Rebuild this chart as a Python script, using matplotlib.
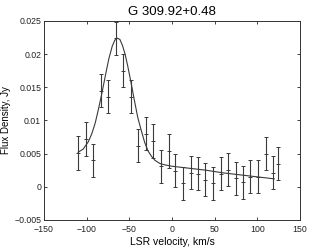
import matplotlib
matplotlib.use("Agg")
import matplotlib.pyplot as plt

# measured points (LSR velocity, km/s / flux density, Jy)
vel = [-110, -101, -92, -83, -75, -66, -57, -48, -40, -31, -22, -13, -4, 4,
       13, 22, 30, 39, 48, 57, 66, 75, 83, 92, 101, 110, 118, 124]
flux = [0.0051, 0.0072, 0.0040, 0.0145, 0.0136, 0.0224, 0.0175, 0.0136,
        0.0062, 0.0080, 0.0069, 0.0031, 0.0054, 0.0024, 0.0005, 0.0021,
        0.0020, 0.0011, 0.0005, 0.0020, 0.0026, 0.0013, 0.0007, 0.0015,
        0.0015, 0.0050, 0.0021, 0.0035]
err = [0.0025] * len(vel)

# fitted curve
fit_vel = [-110, -104, -98, -94, -90, -86, -82, -78, -74, -70, -67, -64, -61,
           -58, -55, -52, -48, -44, -40, -36, -32, -28, -24, -20, -14, -8, 0,
           20, 40, 60, 80, 100, 120]
fit_flux = [0.0052, 0.0057, 0.0068, 0.0080, 0.0096, 0.0118, 0.0142, 0.0168,
            0.0193, 0.0212, 0.0221, 0.0224, 0.0222, 0.0213, 0.0200, 0.0183,
            0.0157, 0.0130, 0.0104, 0.0085, 0.0067, 0.0054, 0.0046, 0.0040,
            0.0035, 0.0033, 0.0031, 0.0028, 0.0025, 0.0021, 0.0018, 0.0015,
            0.0012]

xticks = [-150, -100, -50, 0, 50, 100, 150]
yticks = [-0.005, 0, 0.005, 0.01, 0.015, 0.02, 0.025]
ytick_labels = ["\u22120.005", "0", "0.005", "0.01", "0.015", "0.02", "0.025"]

plt.rcParams["font.family"] = ["Liberation Sans", "DejaVu Sans"]

fig = plt.figure(figsize=(3.31, 2.49), dpi=100)
ax = fig.add_axes([0.133, 0.1165, 0.773, 0.7995])

c = "#3a3a3a"
ax.errorbar(vel, flux, yerr=err, fmt="+", color=c, ecolor=c, ms=3.5,
            mew=0.7, elinewidth=0.8, capsize=1.6, capthick=0.7)
ax.plot(fit_vel, fit_flux, color=c, lw=0.8)

ax.set_xlim(-150, 150)
ax.set_ylim(-0.005, 0.025)
ax.set_xticks(xticks)
ax.set_yticks(yticks)
ax.set_yticklabels(ytick_labels)
ax.tick_params(direction="in", length=2.5, width=0.6, labelsize=6.3,
               top=True, right=True, colors="#222222")
ax.tick_params(axis="x", pad=3.5)
ax.tick_params(axis="y", pad=2)
for s in ax.spines.values():
    s.set_linewidth(0.7)
    s.set_color("#333333")

ax.set_title("G 309.92+0.48", fontsize=9.5, pad=4)
ax.set_xlabel("LSR velocity, km/s", fontsize=7.5, labelpad=2)
ax.set_ylabel("Flux Density, Jy", fontsize=7, labelpad=2)

fig.savefig("out.png", dpi=100)
